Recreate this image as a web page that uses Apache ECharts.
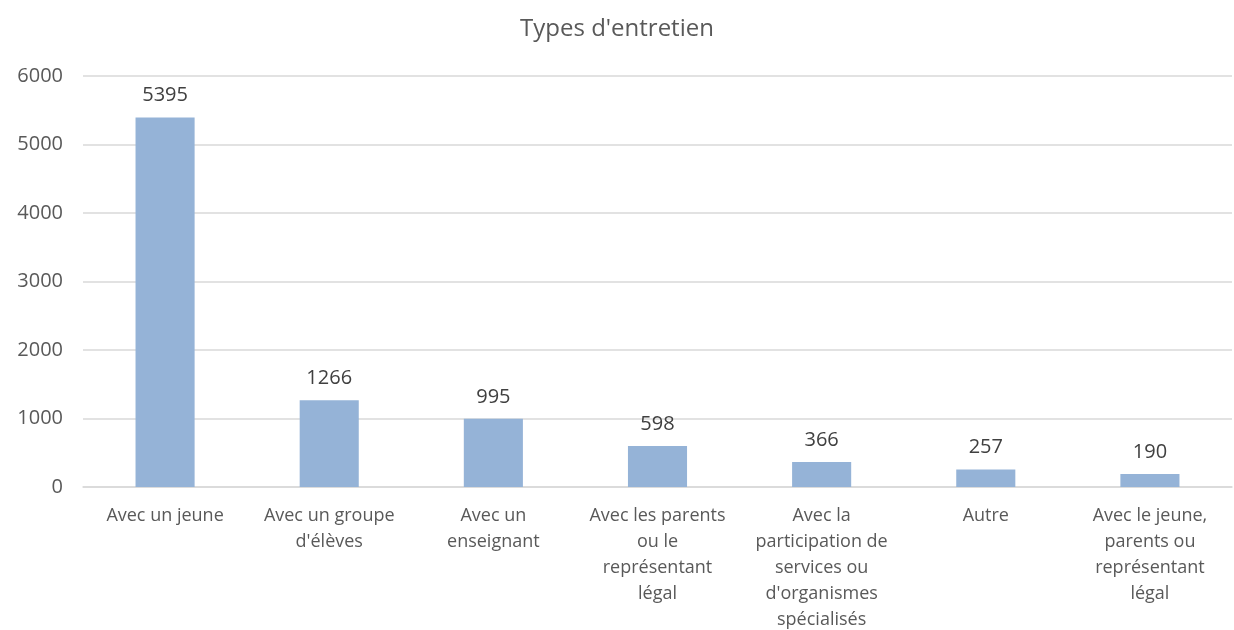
<!DOCTYPE html>
<html>
<head>
<meta charset="utf-8">
<script src="https://cdn.jsdelivr.net/npm/echarts@6/dist/echarts.min.js"></script>
<style>
  html, body { margin: 0; padding: 0; background: #fff; }
  #chart { width: 1234px; height: 630px; }
</style>
</head>
<body>
<div id="chart"></div>
<script>
// catégories et valeurs
var categories = [
  'Avec un jeune',
  'Avec un groupe\nd\'élèves',
  'Avec un\nenseignant',
  'Avec les parents\nou le\nreprésentant\nlégal',
  'Avec la\nparticipation de\nservices ou\nd\'organismes\nspécialisés',
  'Autre',
  'Avec le jeune,\nparents ou\nreprésentant\nlégal'
];
var values = [5395, 1266, 995, 598, 366, 257, 190];

var font = '"Open Sans", "Noto Sans", sans-serif';

var chart = echarts.init(document.getElementById('chart'));
chart.setOption({
  animation: false,
  title: {
    text: "Types d'entretien",
    left: 'center',
    top: 12,
    textStyle: { fontFamily: font, fontSize: 24, fontWeight: 'normal', color: '#595959' }
  },
  grid: { left: 83, right: 2, top: 76, bottom: 143, outerBoundsMode: 'none' },
  xAxis: {
    type: 'category',
    data: categories,
    axisLine: { lineStyle: { color: '#d9d9d9', width: 1.5 } },
    axisTick: { show: false },
    axisLabel: {
      interval: 0,
      margin: 16,
      fontFamily: font, fontSize: 18, color: '#595959', lineHeight: 26
    }
  },
  yAxis: {
    type: 'value',
    min: 0, max: 6000, interval: 1000,
    axisLine: { show: false },
    axisTick: { show: false },
    splitLine: { lineStyle: { color: '#d9d9d9', width: 1.5 } },
    axisLabel: {
      margin: 20, fontFamily: font, fontSize: 20, color: '#595959',
      formatter: function (v) { return String(v); }
    }
  },
  series: [{
    type: 'bar',
    data: values,
    barWidth: '36%',
    itemStyle: { color: '#95b3d7' },
    label: {
      show: true,
      position: 'top',
      distance: 12,
      fontFamily: font, fontSize: 20, color: '#404040'
    }
  }]
});
</script>
</body>
</html>
